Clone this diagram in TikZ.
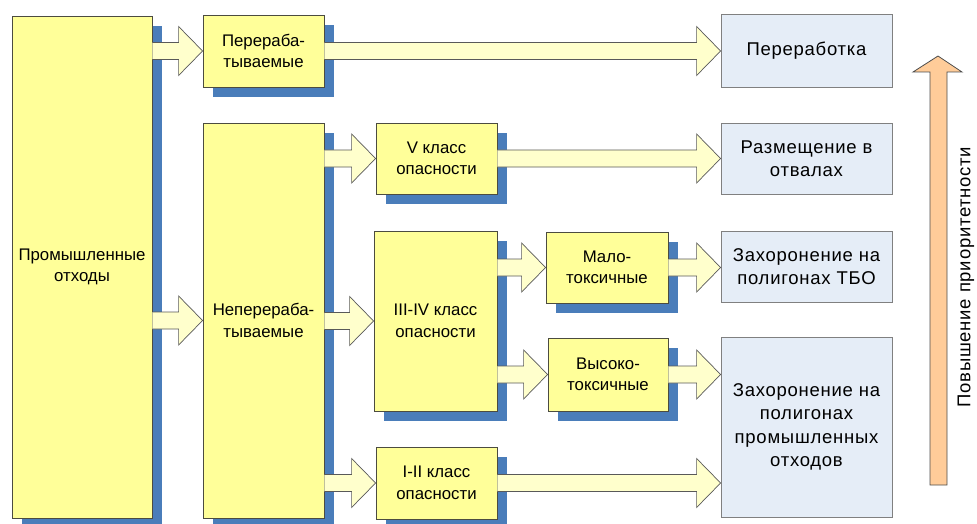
\documentclass[tikz,border=0pt]{standalone}
\usepackage{fontspec}
\setmainfont{Liberation Sans}
\newfontfamily\widerface{Liberation Sans}[LetterSpace=4]
\usetikzlibrary{positioning,calc,shadows}
\definecolor{paleyellow}{rgb}{1.00,1.00,0.60}
\definecolor{creamy}{rgb}{1.00,1.00,0.80}
\definecolor{shadowblue}{rgb}{0.29,0.49,0.73}
\definecolor{paleblue}{rgb}{0.90,0.93,0.97}
\definecolor{peach}{rgb}{1.00,0.80,0.60}
\definecolor{darkline}{rgb}{0.30,0.30,0.25}
\newcommand\bigarrow[3]{%
  \draw[fatflow] let \p1=(#1.east), \p2=(#2.west), \p3=(#3) in
    (\x1,\y3+8.5pt) -- (\x2-24pt,\y3+8.5pt) -- (\x2-24pt,\y3+24.5pt) -- (\x2,\y3)
    -- (\x2-24pt,\y3-24.5pt) -- (\x2-24pt,\y3-8.5pt) -- (\x1,\y3-8.5pt);}

\begin{document}
\begin{tikzpicture}
[x=1pt, y=-1pt,
 every node/.style={align=center, inner sep=2pt},
 stage/.style={rectangle, draw=darkline, fill=paleyellow, line width=0.8pt,
   font=\fontsize{16.8}{21.5}\selectfont,
   drop shadow={shadow xshift=10pt, shadow yshift=-10pt, fill=shadowblue, opacity=1}},
 target/.style={rectangle, draw=gray, fill=paleblue, line width=0.8pt,
   font=\widerface\fontsize{18.5}{23.5}\selectfont},
 fatflow/.style={draw=gray!70!black, fill=creamy, line width=0.7pt},
 prio/.style={draw=gray!60!black, fill=peach, line width=0.8pt}]
\useasboundingbox (0,0) rectangle (977,524);

\node[stage, minimum width=140pt, minimum height=502pt] (prom) at (82,267) {Промышленные\\отходы};
\node[stage, minimum width=121pt, minimum height=72pt] (pererab) at (263.5,51) {Перераба-\\тываемые};
\node[stage, minimum width=121pt, minimum height=395pt] (neper) at (263.5,320.5) {Неперераба-\\тываемые};
\node[stage, minimum width=121pt, minimum height=71pt] (cls5) at (436.5,158.5) {V класс\\опасности};
\node[stage, minimum width=123pt, minimum height=180pt] (cls34) at (435.5,321) {III-IV класс\\опасности};
\node[stage, minimum width=121pt, minimum height=72pt] (cls12) at (436.5,483) {I-II класс\\опасности};
\node[stage, minimum width=122pt, minimum height=71pt] (malo) at (607,267.5) {Мало-\\токсичные};
\node[stage, minimum width=120pt, minimum height=73pt] (vysoko) at (608,374.5) {Высоко-\\токсичные};

\node[target, minimum width=171pt, minimum height=73pt] (recycling) at (806.5,50.5) {Переработка};
\node[target, minimum width=171pt, minimum height=71pt] (dumps) at (806.5,158.5) {Размещение в\\отвалах};
\node[target, minimum width=171pt, minimum height=71pt] (tbo) at (806.5,266.5) {Захоронение на\\полигонах ТБО};
\node[target, minimum width=171pt, minimum height=180pt] (industrial) at (806.5,427) {Захоронение на\\полигонах\\промышленных\\отходов};

\bigarrow{prom}{pererab}{pererab}
\bigarrow{prom}{neper}{neper}
\bigarrow{neper}{cls5}{cls5}
\bigarrow{neper}{cls34}{cls34}
\bigarrow{neper}{cls12}{cls12}
\bigarrow{cls34}{malo}{malo}
\bigarrow{cls34}{vysoko}{vysoko}
\bigarrow{pererab}{recycling}{pererab}
\bigarrow{cls5}{dumps}{cls5}
\bigarrow{malo}{tbo}{malo}
\bigarrow{vysoko}{industrial}{vysoko}
\bigarrow{cls12}{industrial}{cls12}

\draw[prio] (930,485) -- (930,72) -- (913,72) -- (938,56) -- (962,72) -- (947,72) -- (947,485) -- cycle;
\node[rotate=90, font=\widerface\fontsize{18.5}{23.5}\selectfont] (priority) at (966,277) {Повышение приоритетности};
\end{tikzpicture}
\end{document}
